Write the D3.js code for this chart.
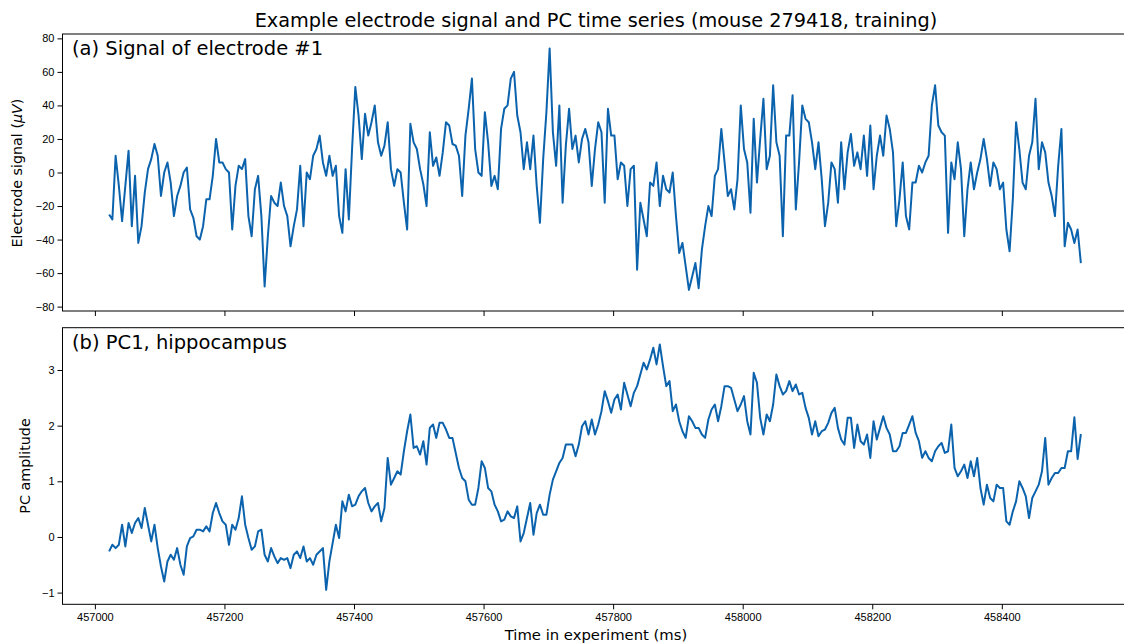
<html>
<head>
<meta charset="utf-8">
<title>Electrode signal and PC time series</title>
<script src="https://d3js.org/d3.v7.min.js"></script>
<style>
body { margin: 0; background: #fff; }
svg { font-family: "DejaVu Sans", sans-serif; }
.tick text { font-size: 11px; fill: #000; }
.tick line { stroke: #000; stroke-width: 1; }
</style>
</head>
<body>
<script>
// sampling of both traces (ms)
var tStart = 457022;
var tStep = 5;

var xTicks = [457000, 457200, 457400, 457600, 457800, 458000, 458200, 458400];
var yTicksTop = [-80, -60, -40, -20, 0, 20, 40, 60, 80];
var yTicksBot = [-1, 0, 1, 2, 3];

// electrode #1 signal (uV)
var signal = [
 -25, -28, 10, -8, -29, -8, 13, -32, -2, -42,
 -32, -12, 2, 8, 17, 10, -14, 0, 6, -6,
 -26, -14, -8, 0, 3, -22, -27, -38, -40, -32,
 -16, -16, -2, 20, 6, 6, 2, 0, -34, -8,
 4, 2, 8, -26, -38, -10, -2, -26, -68, -38,
 -14, -18, -20, -6, -20, -26, -44, -32, -22, 4,
 -32, 0, -4, 10, 14, 22, 6, -2, 10, -2,
 4, -26,
 -36, 2, -28, 14, 51, 34, 8, 35, 22, 30,
 40, 18, 10, 16, 30, 2, -8, 2, 0, -18,
 -34, 29, 18, 14, 2, -7, -20, 24, 4, 9,
 -2, 12, 30, 28, 17, 16, 10, -14, 22, 38,
 56, 14, 0, -2, 36, 18, -8, -2, -10, 26,
 38, 40, 56, 60, 34, 24, 2, 18, 2, 22,
 -8, -30, 8, 36, 74, 24, 4, 40, -18, 16,
 38, 14, 22, 6, 20, 26, 18, -8, 14, 30,
 24, -18, 38,
 22, 22, -4, 6, 4, -20, 2, 4, -58, -18,
 -28, -38, -6, -8, 6, -20, -2, -10, -12, 0,
 -26, -48, -42, -56, -70, -62, -54, -69, -46, -32,
 -20, -26, -2, 2, 26, 6, -14, -10, -22, -4,
 40, 14, 6, -24, 32, -6, 20, 44, 2, 10,
 52, 18, 10, -38, 22, 22, 46, -22, 6, 40,
 32, 30, 18, 2, 18, -4, -32, -18, 6, 2,
 -18, 18, -10, 12, 23, 4, 12, 2, 22, -2,
 28,
 -10, 10, 22, 10, 34, 26, 12, -32, -16, 6,
 -26, -34, -6, -6, 4, 0, 6, 10, 40, 52,
 28, 24, 22, -36, 6, -4, 18, 2, -38, -10,
 6, -10, 0, 8, 20, 8, -8, 6, 2, -10,
 -6, -34, -47, -16, 30, 14, -6, -10, 10, 18,
 44, 2, 18, 12, -6, -14, -26, 4, 26, -44,
 -30, -34, -42, -34, -54
];

// PC1, hippocampus
var pc1 = [
 -0.26, -0.14, -0.20, -0.14, 0.22, -0.17, 0.25, 0.07, 0.25, 0.34,
 0.16, 0.52, 0.22, -0.08, 0.22, -0.20, -0.53, -0.80, -0.44, -0.32,
 -0.41, -0.20, -0.50, -0.68, -0.17, -0.02, 0.01, 0.13, 0.13, 0.10,
 0.19, 0.10, 0.43, 0.61, 0.43, 0.28, 0.22, -0.14, 0.22, 0.13,
 0.34, 0.73, 0.22, -0.02, -0.23, -0.17, 0.10, 0.13, -0.32, -0.44,
 -0.20, -0.35, -0.47, -0.38, -0.41, -0.38, -0.56, -0.32, -0.26, -0.38,
 -0.17, -0.44, -0.38, -0.50, -0.32, -0.26, -0.20, -0.95, -0.44, -0.11,
 0.22, -0.02,
 0.64, 0.46, 0.76, 0.55, 0.58, 0.73, 0.82, 0.88, 0.61, 0.46,
 0.55, 0.61, 0.28, 0.52, 1.42, 0.94, 1.06, 1.18, 1.12, 1.54,
 1.90, 2.20, 1.60, 1.63, 1.48, 1.72, 1.30, 1.96, 2.02, 1.78,
 2.05, 2.05, 1.93, 1.78, 1.78, 1.51, 1.24, 1.06, 1.00, 0.67,
 0.58, 0.58, 0.88, 1.36, 1.24, 0.88, 0.82, 0.58, 0.46, 0.28,
 0.31, 0.46, 0.37, 0.34, 0.55, -0.08, 0.07, 0.34, 0.61, 0.04,
 0.43, 0.58, 0.40, 0.40, 0.76, 1.03, 1.18, 1.33, 1.42, 1.66,
 1.66, 1.66, 1.45, 1.66, 1.99, 2.08, 1.84, 2.11, 1.84, 2.02,
 2.26, 2.62, 2.44,
 2.23, 2.47, 2.56, 2.29, 2.77, 2.56, 2.35, 2.59, 2.71, 2.92,
 3.13, 3.01, 3.19, 3.40, 3.10, 3.46, 3.07, 2.71, 2.80, 2.26,
 2.38, 2.08, 1.90, 1.78, 2.17, 2.08, 1.96, 1.96, 1.84, 1.78,
 2.11, 2.29, 2.38, 2.08, 2.35, 2.71, 2.71, 2.68, 2.47, 2.26,
 2.38, 2.53, 2.08, 1.84, 2.95, 2.77, 2.14, 1.84, 2.20, 2.08,
 2.38, 2.92, 2.71, 2.56, 2.62, 2.80, 2.62, 2.74, 2.56, 2.59,
 2.32, 2.14, 1.84, 2.08, 1.81, 1.90, 1.93, 2.05, 2.23, 2.32,
 1.96, 1.75, 1.66, 2.14, 2.14, 1.60, 2.02, 1.72, 1.66, 1.84,
 1.42,
 2.08, 1.75, 1.96, 2.17, 1.96, 1.84, 1.54, 1.54, 1.63, 1.87,
 1.87, 2.02, 2.17, 1.87, 1.72, 1.42, 1.54, 1.42, 1.36, 1.54,
 1.63, 1.69, 1.51, 1.54, 2.02, 1.24, 1.09, 1.18, 1.30, 1.06,
 1.36, 1.09, 1.42, 0.88, 0.58, 0.94, 0.70, 0.64, 0.94, 0.88,
 0.88, 0.28, 0.22, 0.46, 0.64, 1.00, 0.88, 0.73, 0.34, 0.70,
 0.82, 0.94, 1.18, 1.78, 0.94, 1.06, 1.15, 1.15, 1.24, 1.24,
 1.54, 1.54, 2.15, 1.40, 1.85
];

var width = 1124, height = 644;
var lineColor = "#0c63ad";

var svg = d3.select("body").append("svg")
    .attr("width", width)
    .attr("height", height);

var x = d3.scaleLinear().domain([456950, 458594]).range([62.5, 1127.5]);

var panels = [
    { values: signal, top: 34, bottom: 311, domain: [-82.6, 82.6], ticks: yTicksTop,
      label: "(a) Signal of electrode #1", showX: false },
    { values: pc1, top: 327.7, bottom: 604.3, domain: [-1.21, 3.76], ticks: yTicksBot,
      label: "(b) PC1, hippocampus", showX: true }
];

panels.forEach(function(p) {
    var y = d3.scaleLinear().domain(p.domain).range([p.bottom, p.top]);
    var g = svg.append("g");

    var clipId = "clip" + Math.round(p.top);
    g.append("clipPath").attr("id", clipId)
      .append("rect")
        .attr("x", x.range()[0]).attr("y", p.top)
        .attr("width", x.range()[1] - x.range()[0])
        .attr("height", p.bottom - p.top);

    var line = d3.line()
        .x(function(d, i) { return x(tStart + i * tStep); })
        .y(function(d) { return y(d); });

    g.append("path")
        .datum(p.values)
        .attr("clip-path", "url(#" + clipId + ")")
        .attr("fill", "none")
        .attr("stroke", lineColor)
        .attr("stroke-width", 2)
        .attr("stroke-linejoin", "round")
        .attr("d", line);

    var yAxis = d3.axisLeft(y).tickValues(p.ticks).tickSize(5).tickPadding(3)
        .tickFormat(d3.format("d"));
    g.append("g")
        .attr("transform", "translate(" + x.range()[0] + ",0)")
        .call(yAxis)
        .call(function(s) { s.select(".domain").remove(); });

    var xAxis = d3.axisBottom(x).tickValues(xTicks).tickSize(5).tickPadding(4)
        .tickFormat(p.showX ? d3.format("d") : "");
    g.append("g")
        .attr("transform", "translate(0," + p.bottom + ")")
        .call(xAxis)
        .call(function(s) { s.select(".domain").remove(); });

    // spines
    g.append("rect")
        .attr("x", x.range()[0]).attr("y", p.top)
        .attr("width", x.range()[1] - x.range()[0])
        .attr("height", p.bottom - p.top)
        .attr("fill", "none")
        .attr("stroke", "#000")
        .attr("stroke-width", 1);

    g.append("text")
        .attr("x", 72)
        .attr("y", p.top + 21)
        .attr("font-size", 19.5)
        .text(p.label);
});

// title and axis labels
svg.append("text")
    .attr("x", 596).attr("y", 27)
    .attr("text-anchor", "middle")
    .attr("font-size", 19.3)
    .text("Example electrode signal and PC time series (mouse 279418, training)");

svg.append("text")
    .attr("x", 596).attr("y", 640)
    .attr("text-anchor", "middle")
    .attr("font-size", 14.8)
    .text("Time in experiment (ms)");

var yl1 = svg.append("text")
    .attr("transform", "translate(22,173) rotate(-90)")
    .attr("text-anchor", "middle")
    .attr("font-size", 14.3);
yl1.append("tspan").text("Electrode signal (");
yl1.append("tspan").attr("font-style", "italic").text("\u03bcV");
yl1.append("tspan").text(")");

svg.append("text")
    .attr("transform", "translate(30,466) rotate(-90)")
    .attr("text-anchor", "middle")
    .attr("font-size", 14.3)
    .text("PC amplitude");
</script>
</body>
</html>
